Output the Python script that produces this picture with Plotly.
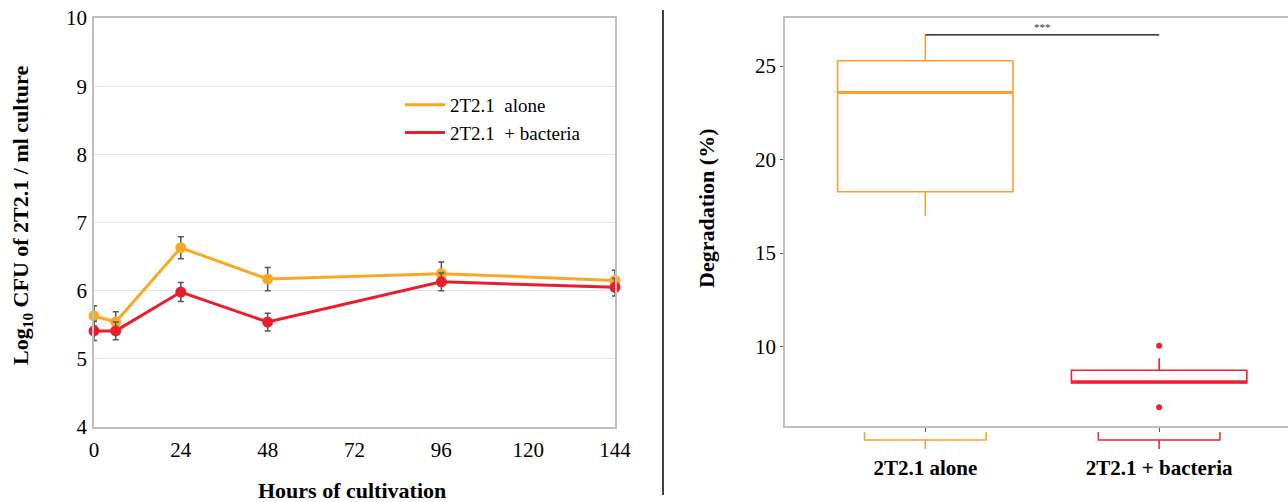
import plotly.graph_objects as go

# ---------------- data: left panel (growth curve) ----------------
hours = [0, 6, 24, 48, 96, 144]
alone_cfu = [5.63, 5.54, 6.63, 6.17, 6.25, 6.15]
alone_err = [0.15, 0.15, 0.16, 0.17, 0.17, 0.15]
bact_cfu = [5.41, 5.41, 5.98, 5.54, 6.13, 6.05]
bact_err = [0.14, 0.13, 0.14, 0.13, 0.13, 0.13]
x_ticks = [0, 24, 48, 72, 96, 120, 144]
y_ticks = [4, 5, 6, 7, 8, 9, 10]

# ---------------- data: right panel (degradation box plot) -------
groups = ["2T2.1 alone", "2T2.1 + bacteria"]
q1 = [18.28, 8.06]
median = [23.59, 8.12]
q3 = [25.28, 8.74]
lowerfence = [16.98, 8.06]
upperfence = [26.66, 9.38]
bact_outliers = [10.05, 6.76]
deg_ticks = [10, 15, 20, 25]
sig_label = "***"

ORANGE = "#F9A825"
RED = "#EA1D2C"
BOX_ORANGE = "#F6A131"
BOX_RED = "#EC2230"
ERR = "#555555"
SERIF = "Liberation Serif"

# figure fills the page (body margin removed by post_script)
W, H = 1288, 502


def px(x):
    return x / W


def py(y):
    return 1 - y / H


fig = go.Figure()

# left panel traces
fig.add_trace(go.Scatter(
    x=hours, y=alone_cfu, mode="lines+markers", showlegend=False, cliponaxis=False,
    line=dict(color=ORANGE, width=3), marker=dict(color=ORANGE, size=11),
    error_y=dict(type="data", array=alone_err, color=ERR, thickness=1.5, width=3),
    xaxis="x", yaxis="y"))
fig.add_trace(go.Scatter(
    x=hours, y=bact_cfu, mode="lines+markers", showlegend=False, cliponaxis=False,
    line=dict(color=RED, width=3), marker=dict(color=RED, size=11),
    error_y=dict(type="data", array=bact_err, color=ERR, thickness=1.5, width=3),
    xaxis="x", yaxis="y"))
# legend-only entries (line samples without markers)
fig.add_trace(go.Scatter(x=[None], y=[None], mode="lines", name="2T2.1&nbsp;&nbsp;alone",
                         line=dict(color=ORANGE, width=3), xaxis="x", yaxis="y"))
fig.add_trace(go.Scatter(x=[None], y=[None], mode="lines", name="2T2.1&nbsp;&nbsp;+ bacteria",
                         line=dict(color=RED, width=3), xaxis="x", yaxis="y"))

# right panel boxes
box_colors = [BOX_ORANGE, BOX_RED]
box_width = 0.75
for i in range(len(groups)):
    fig.add_trace(go.Box(
        x=[i], q1=[q1[i]], median=[median[i]], q3=[q3[i]],
        lowerfence=[lowerfence[i]], upperfence=[upperfence[i]],
        width=box_width, whiskerwidth=0, line=dict(color=box_colors[i], width=1.6),
        fillcolor="rgba(255,255,255,0)", showlegend=False,
        xaxis="x2", yaxis="y2"))
fig.add_trace(go.Scatter(
    x=[1] * len(bact_outliers), y=bact_outliers, mode="markers",
    marker=dict(color=BOX_RED, size=6), showlegend=False,
    xaxis="x2", yaxis="y2"))

shapes = []
# thicker median lines
for i in range(len(groups)):
    shapes.append(dict(type="line", xref="x2", yref="y2",
                       x0=i - box_width / 2, x1=i + box_width / 2,
                       y0=median[i], y1=median[i],
                       line=dict(color=box_colors[i], width=3)))
# significance line
shapes.append(dict(type="line", xref="x2", yref="y2", x0=0, x1=1,
                   y0=upperfence[0], y1=upperfence[0],
                   line=dict(color="black", width=1.2)))
# braces below categories
half = 0.26
b_top, b_mid, b_bot = py(432), py(440), py(449)
for i in range(len(groups)):
    shapes.append(dict(
        type="path", xref="x2", yref="paper",
        path=(f"M {i-half},{b_top} L {i-half},{b_mid} L {i+half},{b_mid} L {i+half},{b_top} "
              f"M {i},{b_mid} L {i},{b_bot}"),
        line=dict(color=box_colors[i], width=1.5)))
# vertical divider
shapes.append(dict(type="line", xref="paper", yref="paper", x0=px(663), x1=px(663),
                   y0=py(495), y1=py(10), line=dict(color="black", width=1.5)))

annotations = [
    dict(text="<b>Log<sub>10</sub> CFU of 2T2.1 / ml culture</b>", xref="paper", yref="paper",
         x=px(22), y=py(216), xanchor="center", yanchor="middle", textangle=-90,
         showarrow=False, font=dict(family=SERIF, size=22, color="black")),
    dict(text="<b>Hours of cultivation</b>", xref="paper", yref="paper",
         x=px(352), y=py(490), xanchor="center", yanchor="middle", showarrow=False,
         font=dict(family=SERIF, size=22, color="black")),
    dict(text="<b>Degradation (%)</b>", xref="paper", yref="paper",
         x=px(706), y=py(209), xanchor="center", yanchor="middle", textangle=-90,
         showarrow=False, font=dict(family=SERIF, size=22, color="black")),
    dict(text=sig_label, xref="x2", yref="y2", x=0.5, y=upperfence[0], yanchor="bottom",
         showarrow=False, font=dict(family=SERIF, size=11, color="#333333")),
]

fig.update_layout(
    width=W, height=H, margin=dict(l=0, r=0, t=0, b=0, autoexpand=False),
    paper_bgcolor="white", plot_bgcolor="white",
    font=dict(family=SERIF, color="black"),
    xaxis=dict(domain=[px(94), px(615)], range=[0, 144], tickvals=x_ticks,
               showgrid=False, zeroline=False, showline=True, mirror=True,
               linecolor="#BFBFBF", linewidth=1.5, ticks="",
               ticklabelstandoff=3, ticklabeloverflow="allow",
               tickfont=dict(family=SERIF, size=21)),
    yaxis=dict(domain=[py(427), py(18)], range=[4, 10], tickvals=y_ticks,
               showgrid=True, gridcolor="#E6E6E6", gridwidth=1.2, zeroline=False,
               showline=True, mirror=True, linecolor="#BFBFBF", linewidth=1.5,
               ticks="", ticklabelstandoff=1, ticklabeloverflow="allow",
               tickfont=dict(family=SERIF, size=21)),
    xaxis2=dict(domain=[px(785), 1.0], range=[-0.6, 1.551], tickvals=[0, 1],
                ticktext=[f"<b>{g}</b>" for g in groups],
                showgrid=False, zeroline=False, showline=True, mirror=True,
                linecolor="#BFBFBF", linewidth=1.5, ticks="outside", ticklen=4,
                tickcolor="#555555", ticklabelstandoff=18, ticklabeloverflow="allow",
                tickfont=dict(family=SERIF, size=21), anchor="y2"),
    yaxis2=dict(domain=[py(426), py(18.3)], range=[5.76, 27.55],
                tickvals=deg_ticks, showgrid=False, zeroline=False, showline=True,
                linecolor="#BFBFBF", linewidth=1.5, ticks="outside", ticklen=3,
                tickcolor="#555555", ticklabelstandoff=0, ticklabeloverflow="allow",
                tickfont=dict(family=SERIF, size=21), anchor="x2"),
    legend=dict(x=px(400), y=py(86), xanchor="left", yanchor="top",
                bgcolor="rgba(0,0,0,0)", font=dict(family=SERIF, size=19),
                itemwidth=40, tracegroupgap=0),
    shapes=shapes, annotations=annotations,
)

fig.write_html("out.html", config={"displayModeBar": False},
               post_script="document.body.style.margin='0px';document.body.style.overflow='hidden';")
